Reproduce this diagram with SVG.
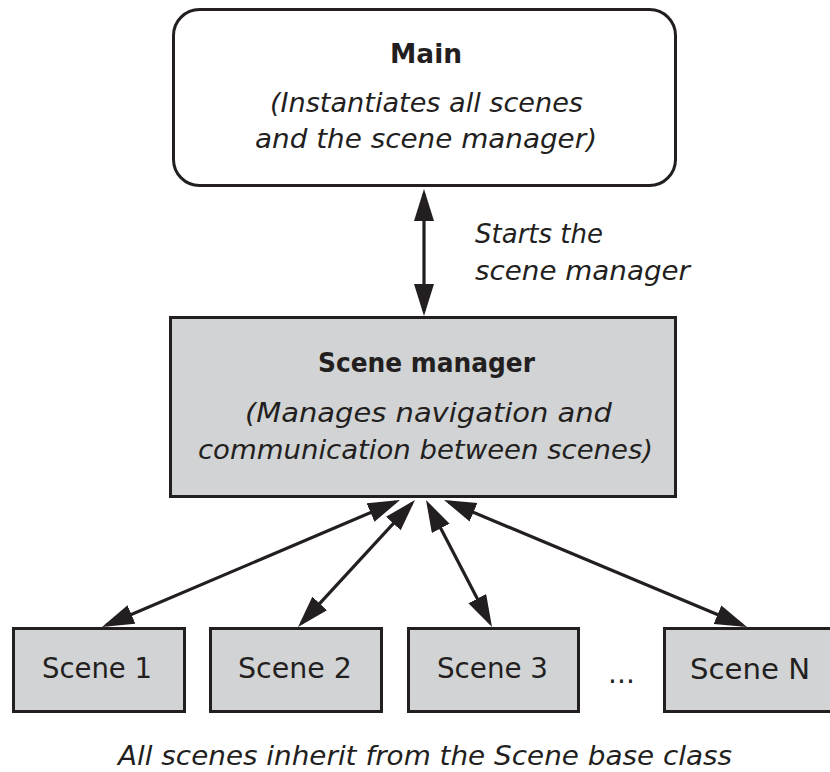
<svg xmlns="http://www.w3.org/2000/svg" width="830" height="772" viewBox="0 0 830 772">
  <style>
    .box { stroke: #231f20; stroke-width: 3; }
    .main { fill: #ffffff; }
    .gray { fill: #d1d3d4; }
    text { font-family: "DejaVu Sans", "Liberation Sans", sans-serif; fill: #231f20; }
    .title { font-weight: bold; font-size: 26px; }
    .sub { font-style: italic; font-size: 27px; }
    .label { font-size: 28px; }
    .conn { stroke: #231f20; stroke-width: 3.2; fill: none; marker-start: url(#arrow); marker-end: url(#arrow); }
  </style>
  <defs>
    <marker id="arrow" markerUnits="userSpaceOnUse" markerWidth="34" markerHeight="22" refX="27" refY="10" orient="auto-start-reverse" viewBox="0 0 34 22">
      <path d="M0,0 L32,10 L0,20 Z" fill="#231f20"/>
    </marker>
  </defs>
  <rect width="830" height="772" fill="#ffffff"/>

  <g id="main">
    <rect class="box main" x="173.5" y="9.5" width="502" height="176" rx="26"/>
    <text class="title" x="390" y="63" textLength="72" lengthAdjust="spacingAndGlyphs">Main</text>
    <text class="sub" x="270" y="112" textLength="313" lengthAdjust="spacingAndGlyphs">(Instantiates all scenes</text>
    <text class="sub" x="255" y="148" textLength="342" lengthAdjust="spacingAndGlyphs">and the scene manager)</text>
  </g>

  <g id="start-label">
    <text class="sub" x="475" y="243" textLength="128" lengthAdjust="spacingAndGlyphs">Starts the</text>
    <text class="sub" x="475" y="280" textLength="215" lengthAdjust="spacingAndGlyphs">scene manager</text>
  </g>

  <g id="scene-manager">
    <rect class="box gray" x="170.5" y="317.5" width="505" height="179"/>
    <text class="title" x="318" y="372" textLength="217" lengthAdjust="spacingAndGlyphs">Scene manager</text>
    <text class="sub" x="245" y="422" textLength="367" lengthAdjust="spacingAndGlyphs">(Manages navigation and</text>
    <text class="sub" x="198" y="459" textLength="455" lengthAdjust="spacingAndGlyphs">communication between scenes)</text>
  </g>

  <g id="scene-1">
    <rect class="box gray" x="13.5" y="628.5" width="171" height="83"/>
    <text class="label" x="42" y="678" textLength="110" lengthAdjust="spacingAndGlyphs">Scene 1</text>
  </g>
  <g id="scene-2">
    <rect class="box gray" x="210.5" y="628.5" width="171" height="83"/>
    <text class="label" x="238" y="678" textLength="114" lengthAdjust="spacingAndGlyphs">Scene 2</text>
  </g>
  <g id="scene-3">
    <rect class="box gray" x="408.5" y="628.5" width="170" height="83"/>
    <text class="label" x="437" y="678" textLength="111" lengthAdjust="spacingAndGlyphs">Scene 3</text>
  </g>
  <g id="ellipsis">
    <text class="label" x="608" y="683" textLength="27" lengthAdjust="spacing">...</text>
  </g>
  <g id="scene-n">
    <rect class="box gray" x="664.5" y="628.5" width="174" height="83"/>
    <text class="label" x="690" y="679" textLength="120" lengthAdjust="spacingAndGlyphs">Scene N</text>
  </g>

  <g id="connectors">
    <line class="conn" x1="424" y1="194" x2="424" y2="311"/>
    <line class="conn" x1="395.4" y1="502" x2="106.6" y2="625"/>
    <line class="conn" x1="411.6" y1="503.7" x2="301.4" y2="623.3"/>
    <line class="conn" x1="428.3" y1="504.4" x2="489.7" y2="622.6"/>
    <line class="conn" x1="448.6" y1="501.9" x2="742.4" y2="625.1"/>
  </g>

  <g id="caption">
    <text class="sub" x="118" y="765" textLength="614" lengthAdjust="spacingAndGlyphs">All scenes inherit from the Scene base class</text>
  </g>
</svg>
